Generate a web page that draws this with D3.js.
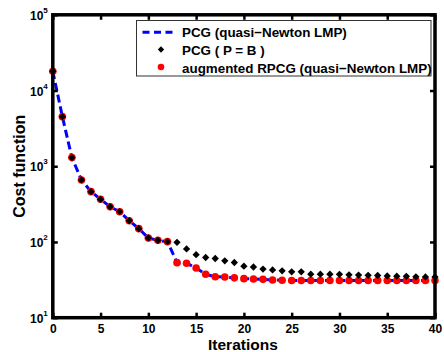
<!DOCTYPE html>
<html><head><meta charset="utf-8">
<script src="https://cdn.jsdelivr.net/npm/d3@7"></script>
<style>
html,body{margin:0;padding:0;background:#fff;}
svg{display:block;}
text{font-family:"Liberation Sans",Arial,Helvetica,sans-serif;font-weight:bold;fill:#000;}
</style></head>
<body>
<svg id="chart" width="444" height="352"></svg>
<script>
const iterations = d3.range(0, 41);
const pcgPB = [18000, 4520, 1300, 659, 462, 366, 292, 251, 191, 150, 113, 105, 101,
  99, 81, 68, 62.4, 60.5, 56.3, 53.6, 47.9, 46.7, 43.8, 42.7, 41.6, 40.4, 40.4,
  37.6, 37.6, 37.5, 37.4, 36.8, 36.6, 36.3, 36.1, 35.6, 35.4, 35.2, 34.7, 34.6, 34.5];
const augRPCG = [18000, 4520, 1300, 659, 462, 366, 292, 251, 191, 150, 113, 105, 101,
  53.3, 52.3, 45.4, 37.4, 34.8, 34.4, 33.6, 32.8, 32.5, 32.1, 31.5, 31.2, 31.0, 31.0,
  31.0, 31.0, 31.0, 31.0, 31.0, 31.0, 31.0, 31.0, 31.0, 31.0, 31.0, 31.0, 31.0, 31.0];
const pcgQN = augRPCG.slice();
const xTicks = [0, 5, 10, 15, 20, 25, 30, 35, 40];
const yTickExps = [1, 2, 3, 4, 5];
const legendLabels = ["PCG (quasi\u2212Newton LMP)", "PCG ( P = B )", "augmented RPCG (quasi\u2212Newton LMP)"];
const xLabel = "Iterations";
const yLabel = "Cost function";

const svg = d3.select("#chart");
const L = 52.8, R = 435, T = 14.8, B = 317.7;
const x = d3.scaleLinear().domain([0, 40]).range([L, R]);
const y = d3.scaleLog().domain([10, 1e5]).range([B, T]);

// data
const line = d3.line().x((d, i) => x(iterations[i])).y(d => y(d));
svg.append("path").datum(pcgQN).attr("d", line)
  .attr("fill", "none").attr("stroke", "#0000ff").attr("stroke-width", 3)
  .attr("stroke-dasharray", "8,4");
svg.append("g").selectAll("circle").data(augRPCG).join("circle")
  .attr("cx", (d, i) => x(iterations[i])).attr("cy", d => y(d)).attr("r", 3.8)
  .attr("fill", "#ff0000");
const dia = d3.symbol().type(d3.symbolDiamond2).size(34);
svg.append("g").selectAll("path").data(pcgPB).join("path")
  .attr("d", dia).attr("transform", (d, i) => `translate(${x(iterations[i])},${y(d)})`)
  .attr("fill", "#000");

// axes ticks
const tickStyle = g => { g.select(".domain").remove(); g.selectAll(".tick line").attr("stroke", "#000").attr("stroke-width", 2.5); };
svg.append("g").attr("transform", `translate(0,${B})`)
  .call(d3.axisBottom(x).tickValues(xTicks).tickSizeInner(-5).tickSizeOuter(0).tickPadding(12).tickFormat(d3.format("d")))
  .call(tickStyle)
  .call(g => g.selectAll(".tick text").attr("font-size", 12).attr("font-family", "Liberation Sans, Arial, sans-serif").attr("font-weight", "bold").attr("fill", "#000").attr("dy", "0.3em"));
svg.append("g").attr("transform", `translate(0,${T})`)
  .call(d3.axisTop(x).tickValues(xTicks).tickSizeInner(-5).tickSizeOuter(0).tickFormat(""))
  .call(tickStyle);
const yTickVals = yTickExps.map(e => Math.pow(10, e));
const yl = svg.append("g").attr("transform", `translate(${L},0)`)
  .call(d3.axisLeft(y).tickValues(yTickVals).tickSizeInner(-5).tickSizeOuter(0).tickFormat(""))
  .call(tickStyle);
yl.selectAll(".tick").each(function(d, i) {
  const t = d3.select(this).append("text").attr("x", -5).attr("y", 4.5)
    .attr("text-anchor", "end").attr("font-size", 12).attr("font-family", "Liberation Sans, Arial, sans-serif").attr("font-weight", "bold");
  t.append("tspan").text("10");
  t.append("tspan").attr("dy", -7).attr("font-size", 8).text(yTickExps[i]);
});
svg.append("g").attr("transform", `translate(${R},0)`)
  .call(d3.axisRight(y).tickValues(yTickVals).tickSizeInner(-5).tickSizeOuter(0).tickFormat(""))
  .call(tickStyle);

// frame
svg.append("rect").attr("x", L).attr("y", T).attr("width", R - L).attr("height", B - T)
  .attr("fill", "none").attr("stroke", "#000").attr("stroke-width", 3.5);

// axis labels
svg.append("text").attr("x", (L + R) / 2 - 1).attr("y", 349.5).attr("text-anchor", "middle")
  .attr("font-size", 15.5).text(xLabel);
svg.append("text").attr("transform", `translate(24.5,${(T + B) / 2}) rotate(-90)`)
  .attr("text-anchor", "middle").attr("font-size", 16).text(yLabel);

// legend
const lg = svg.append("g");
lg.append("rect").attr("x", 136.5).attr("y", 20.5).attr("width", 294.5).attr("height", 55.5)
  .attr("fill", "#fff").attr("stroke", "#333").attr("stroke-width", 1);
const rows = [37.3, 55, 72.5];
rows.forEach((by, i) => {
  lg.append("text").attr("x", 182).attr("y", by).attr("font-size", 13.4).text(legendLabels[i]);
});
lg.append("line").attr("x1", 142.5).attr("x2", 176).attr("y1", rows[0] - 5).attr("y2", rows[0] - 5)
  .attr("stroke", "#0000ff").attr("stroke-width", 3).attr("stroke-dasharray", "7,4.5");
lg.append("path").attr("d", d3.symbol().type(d3.symbolDiamond2).size(26))
  .attr("transform", `translate(161,${rows[1] - 5.5})`).attr("fill", "#000");
lg.append("circle").attr("cx", 161).attr("cy", rows[2] - 5.5).attr("r", 3.3).attr("fill", "#ff0000");
</script>
</body></html>
